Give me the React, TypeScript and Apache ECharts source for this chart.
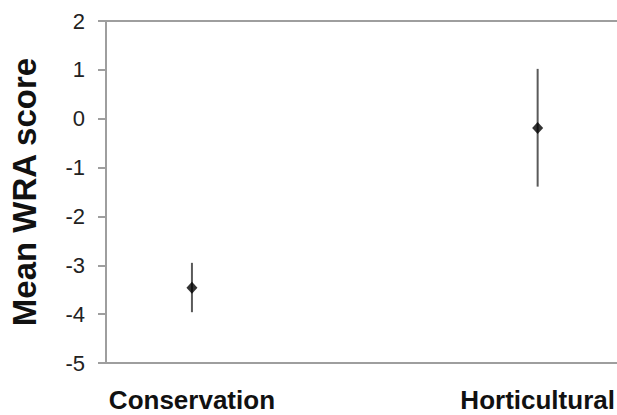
import React, { useEffect, useRef } from "react";
import * as echarts from "echarts";

const categories = ["Conservation", "Horticultural"];
const means = [-3.46, -0.19];
const lower = [-3.96, -1.39];
const upper = [-2.95, 1.02];
const yTicks = [-5, -4, -3, -2, -1, 0, 1, 2];

const FONT = "'Liberation Sans', Arial, sans-serif";

export default function App() {
  const ref = useRef<HTMLDivElement>(null);

  useEffect(() => {
    if (!ref.current) return;
    const chart = echarts.init(ref.current, null, { renderer: "svg" });

    const positions = categories.map((_, i) => i + 1);
    const barData = positions.map((x, i) => [x, lower[i], upper[i]]);
    const pointData = positions.map((x, i) => [x, means[i]]);

    chart.setOption({
      animation: false,
      backgroundColor: "#ffffff",
      grid: { left: 100, right: 0, top: 21, bottom: 52, containLabel: false },
      xAxis: [
        {
          type: "value",
          min: 0.7514,
          max: 2.2286,
          axisLine: { show: true, onZero: false, lineStyle: { color: "#9e9e9e", width: 2 } },
          axisTick: { show: false },
          splitLine: { show: false },
          axisLabel: {
            customValues: positions,
            formatter: (v: number) => categories[Math.round(v) - 1] ?? "",
            color: "#111",
            fontFamily: FONT,
            fontWeight: "bold",
            fontSize: 26,
            margin: 24,
          },
        },
        {
          type: "value",
          position: "top",
          min: 0.7514,
          max: 2.2286,
          axisLine: { show: true, onZero: false, lineStyle: { color: "#9e9e9e", width: 2 } },
          axisTick: { show: false },
          axisLabel: { show: false },
          splitLine: { show: false },
        },
      ],
      yAxis: {
        type: "value",
        min: yTicks[0],
        max: yTicks[yTicks.length - 1],
        interval: 1,
        name: "Mean WRA score",
        nameLocation: "middle",
        nameGap: 65,
        nameTextStyle: {
          color: "#111",
          fontFamily: FONT,
          fontWeight: "bold",
          fontSize: 33,
        },
        axisLine: { show: true, lineStyle: { color: "#9e9e9e", width: 2 } },
        axisTick: { show: true, length: 8, lineStyle: { color: "#9e9e9e", width: 2 } },
        splitLine: { show: false },
        axisLabel: {
          color: "#222",
          fontFamily: FONT,
          fontSize: 22,
          margin: 21,
        },
      },
      series: [
        {
          type: "custom",
          xAxisIndex: 0,
          encode: { x: 0, y: [1, 2] },
          data: barData,
          renderItem: (_params: any, api: any) => {
            const x = api.value(0);
            const p1 = api.coord([x, api.value(1)]);
            const p2 = api.coord([x, api.value(2)]);
            return {
              type: "line",
              shape: { x1: p1[0], y1: p1[1], x2: p2[0], y2: p2[1] },
              style: { stroke: "#5a5a5a", lineWidth: 2 },
            };
          },
          z: 2,
        },
        {
          type: "scatter",
          xAxisIndex: 0,
          data: pointData,
          symbol: "diamond",
          symbolSize: [11, 12],
          itemStyle: { color: "#000" },
          z: 3,
        },
      ],
    });

    return () => chart.dispose();
  }, []);

  return <div ref={ref} style={{ width: 617, height: 415, position: "absolute", left: 0, top: 0 }} />;
}
